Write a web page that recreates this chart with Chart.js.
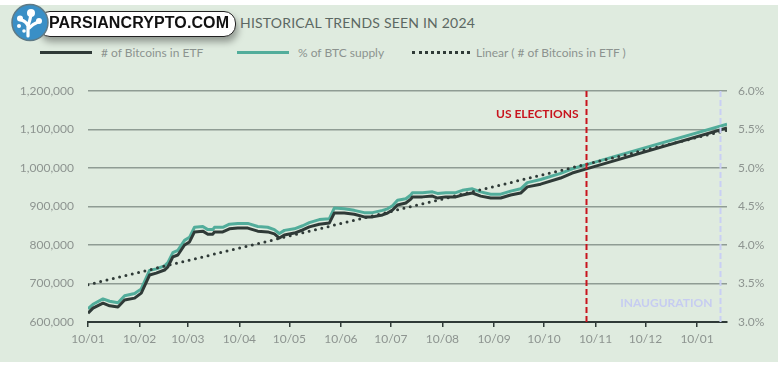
<!DOCTYPE html>
<html>
<head>
<meta charset="utf-8">
<script src="https://cdn.jsdelivr.net/npm/chart.js@4"></script>
<style>
  html, body { margin: 0; padding: 0; background: #fff; }
  body { width: 784px; height: 367px; position: relative; overflow: hidden; font-family: Lato, sans-serif; }
  #panel { position: absolute; left: 0; top: 5px; width: 778px; height: 357px; background: #dfebdf; }
  #wrap { position: absolute; left: 0; top: 0; width: 784px; height: 367px; }
  #title { position: absolute; left: 240px; top: 14px; font-size: 14px; color: #5c6863; letter-spacing: 0.2px; white-space: nowrap; }
  .leg { position: absolute; top: 46px; font-size: 12px; color: #8c938f; white-space: nowrap; height: 14px; line-height: 14px; }
  .leg i { display: inline-block; width: 52px; vertical-align: middle; margin-right: 9px; margin-top: -2px; }
  #logo { position: absolute; left: 10px; top: 3px; }
  #pill { position: absolute; left: 38px; top: 11px; width: 196px; height: 24px; background: #fff; border: 1.5px solid #222;
          border-radius: 12px; box-shadow: 2px 5px 7px rgba(0,0,0,0.35); }
  #pill span { position: absolute; left: 10px; top: 2px; font-family: "Liberation Sans", Arial, sans-serif; font-weight: bold;
               font-size: 16px; color: #111; letter-spacing: 0.1px; white-space: nowrap; }
</style>
</head>
<body>
<div id="panel"></div>
<div id="title">HISTORICAL TRENDS SEEN IN 2024</div>
<div class="leg" style="left:40px"><i style="border-top:3px solid #2f3a37"></i># of Bitcoins in ETF</div>
<div class="leg" style="left:237px"><i style="border-top:3px solid #52ad9b"></i>% of BTC supply</div>
<div class="leg" style="left:412px"><i style="border-top:3px dotted #2f3a37;width:58px;margin-right:6px"></i>Linear ( # of Bitcoins in ETF )</div>
<div id="wrap"><canvas id="chart" width="784" height="367"></canvas></div>
<div id="pill"><span>PARSIANCRYPTO.COM</span></div>
<svg id="logo" width="40" height="40" viewBox="0 0 40 40">
  <circle cx="20" cy="19.5" r="18" fill="#3a8fc6" stroke="#5f7a86" stroke-width="1.5"/>
  <path d="M18 33 L18 23 Q16 18 11 17 M18 23 Q20 17 21 12 M19 25 Q23 21 28 19" stroke="#fff" stroke-width="3.2" fill="none" stroke-linecap="round"/>
  <circle cx="21" cy="10" r="4" fill="#fff"/>
  <circle cx="10" cy="15.5" r="3" fill="#fff"/>
  <circle cx="29" cy="18" r="3" fill="#fff"/>
  <circle cx="9" cy="23" r="2" fill="#fff"/>
  <circle cx="14" cy="28" r="1.8" fill="#fff"/>
</svg>
<script>
'use strict';

// days since 10/01/2024
const days = [0, 3, 9, 13, 18, 22, 28, 32, 37, 41, 46, 48, 51, 54, 58, 61, 64, 69, 72, 75,
    76, 81, 85, 90, 96, 102, 108, 112, 115, 118, 124, 129, 133, 139, 145, 148, 154, 160, 166, 171,
    177, 180, 183, 186, 191, 194, 195, 201, 207, 210, 215, 221, 225, 231, 236, 242, 248, 254, 260, 264,
    272, 284, 291, 299, 384];

const etfBtc = [623000, 636000, 649000, 642000, 639000, 657000, 662000, 675000, 722000, 727000,
    735000, 743000, 769000, 774000, 800000, 808000, 834000, 836000, 828000, 828000,
    834000, 834000, 842000, 844000, 844000, 836000, 834000, 829000, 818000, 826000,
    831000, 839000, 847000, 854000, 857000, 883000, 883000, 880000, 873000, 873000,
    878000, 883000, 891000, 904000, 909000, 919000, 925000, 925000, 927000, 922000,
    925000, 925000, 930000, 935000, 927000, 922000, 922000, 930000, 935000, 951000,
    958000, 974000, 987000, 997000, 1104000];

const btcSupplyPct = [3.17, 3.23, 3.30, 3.27, 3.25, 3.34, 3.37, 3.43, 3.67, 3.69,
    3.73, 3.77, 3.90, 3.93, 4.06, 4.10, 4.23, 4.24, 4.20, 4.20,
    4.23, 4.23, 4.27, 4.28, 4.28, 4.24, 4.23, 4.20, 4.15, 4.19,
    4.21, 4.25, 4.29, 4.33, 4.34, 4.48, 4.47, 4.45, 4.42, 4.42,
    4.45, 4.47, 4.51, 4.58, 4.60, 4.65, 4.68, 4.68, 4.69, 4.67,
    4.68, 4.68, 4.71, 4.73, 4.69, 4.66, 4.66, 4.70, 4.73, 4.81,
    4.85, 4.93, 4.99, 5.04, 5.57];

const trendDays = [0, 384];
const trendBtc = [697000, 1098000];

const tickDays = [0, 31, 60, 91, 121, 152, 182, 213, 244, 274, 305, 335, 366];
const tickLabels = ['10/01', '10/02', '10/03', '10/04', '10/05', '10/06', '10/07', '10/08', '10/09', '10/10', '10/11', '10/12', '10/01'];

const eventDays = [299, 380];
const eventLabels = ['US ELECTIONS', 'INAUGURATION'];

const toPoints = (xs, ys) => xs.map((x, i) => ({ x: x, y: ys[i] }));

const eventLines = {
    id: 'eventLines',
    afterDatasetsDraw(chart) {
        const { ctx, chartArea, scales } = chart;
        const styles = [
            { line: '#c8141e', text: '#c8141e', labelY: chartArea.top + 23 },
            { line: '#c9cff4', text: '#c6ccf1', labelY: chartArea.bottom - 19 },
        ];
        ctx.save();
        eventDays.forEach((d, i) => {
            const x = Math.round(scales.x.getPixelForValue(d)) + 0.5;
            const st = styles[i];
            ctx.strokeStyle = st.line;
            ctx.lineWidth = 2;
            ctx.setLineDash([6, 3]);
            ctx.beginPath();
            ctx.moveTo(x, chartArea.top);
            ctx.lineTo(x, chartArea.bottom);
            ctx.stroke();
            ctx.font = 'bold 12px Lato, sans-serif';
            ctx.fillStyle = st.text;
            ctx.textAlign = 'right';
            ctx.textBaseline = 'middle';
            ctx.fillText(eventLabels[i], x - 8, st.labelY);
        });
        ctx.restore();
    },
};

const tickFont = { family: 'Lato, sans-serif', size: 12 };
const tickColor = '#8d9490';

new Chart(document.getElementById('chart').getContext('2d'), {
    type: 'line',
    data: {
        datasets: [
            {
                label: '# of Bitcoins in ETF',
                data: toPoints(days, etfBtc),
                borderColor: '#2f3a37',
                borderWidth: 3,
                yAxisID: 'y',
            },
            {
                label: 'Linear ( # of Bitcoins in ETF )',
                data: toPoints(trendDays, trendBtc),
                borderColor: '#2f3a37',
                borderWidth: 3,
                borderDash: [0, 6.5],
                borderCapStyle: 'round',
                yAxisID: 'y',
            },
            {
                label: '% of BTC supply',
                data: toPoints(days, btcSupplyPct),
                borderColor: '#52ad9b',
                borderWidth: 3,
                yAxisID: 'y1',
            },
        ],
    },
    options: {
        responsive: false,
        animation: false,
        layout: { padding: { top: 91, left: 0, right: 0, bottom: 0 } },
        elements: {
            point: { radius: 0 },
            line: { tension: 0, borderJoinStyle: 'round' },
        },
        plugins: {
            legend: { display: false },
            tooltip: { enabled: false },
        },
        scales: {
            x: {
                type: 'linear',
                min: 0,
                max: 384,
                afterBuildTicks: (scale) => {
                    scale.ticks = tickDays.map((v) => ({ value: v }));
                },
                afterFit: (scale) => { scale.height = 45; },
                ticks: {
                    callback: (value, index) => tickLabels[index],
                    font: tickFont,
                    color: tickColor,
                    padding: 5,
                    maxRotation: 0,
                    autoSkip: false,
                },
                grid: { drawOnChartArea: false, drawTicks: true, tickLength: 5, color: '#2f3a37', lineWidth: 1.5 },
                border: { display: true, color: '#2f3a37', width: 2 },
            },
            y: {
                position: 'left',
                min: 600000,
                max: 1200000,
                afterFit: (scale) => { scale.width = 88; },
                ticks: {
                    stepSize: 100000,
                    callback: (v) => v.toLocaleString('en-US'),
                    font: tickFont,
                    color: tickColor,
                    padding: 14,
                },
                grid: { color: '#8f9c94', lineWidth: 1.5, drawTicks: false },
                border: { display: false },
            },
            y1: {
                position: 'right',
                min: 3.0,
                max: 6.0,
                afterFit: (scale) => { scale.width = 57; },
                ticks: {
                    stepSize: 0.5,
                    callback: (v) => v.toFixed(1) + '%',
                    font: tickFont,
                    color: tickColor,
                    padding: 11,
                },
                grid: { display: false, drawTicks: false },
                border: { display: false },
            },
        },
    },
    plugins: [eventLines],
});
</script>
</body>
</html>
